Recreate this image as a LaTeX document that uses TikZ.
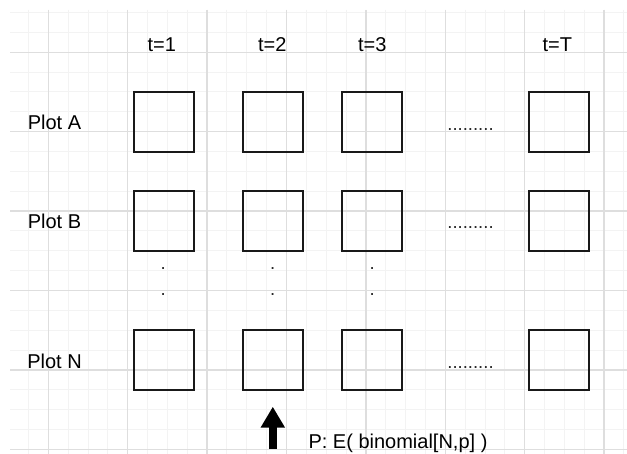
\documentclass[tikz,border=0pt]{standalone}
\usepackage{fontspec}
\setmainfont{Liberation Sans}
\usetikzlibrary{arrows.meta}
\definecolor{minorgrid}{HTML}{F3F3F3}
\definecolor{majorgrid}{HTML}{DEDEDE}
\tikzset{
  plotbox/.style={draw=black!90, line width=2pt, minimum width=60pt, minimum height=60pt, inner sep=0pt},
  lbl/.style={inner sep=0pt, anchor=base, font=\fontsize{20pt}{24pt}\selectfont, text=black},
  hdots/.style={inner sep=0pt, anchor=base, font=\fontsize{18.5pt}{22pt}\selectfont, text=black!85},
  vdots/.style={inner sep=0pt, align=center, font=\fontsize{18.5pt}{26pt}\selectfont, text=black!85},
  bigarrow/.style={line width=8pt, -{Triangle[width=23pt,length=21pt]}, black},
}
\begin{document}
\begin{tikzpicture}[x=1pt,y=-1pt]
\useasboundingbox (0,0) rectangle (627,454);
\fill[white] (0,0) rectangle (627,454);
% grid
\foreach \i in {1,...,31} \draw[minorgrid, line width=1pt] ({8.6+19.85*\i},10) -- ({8.6+19.85*\i},454);
\foreach \j in {0,...,22} \draw[minorgrid, line width=1pt] (10,{12.6+19.85*\j}) -- (627,{12.6+19.85*\j});
\foreach \k in {0,...,7} \draw[majorgrid, line width=1.5pt] ({48.3+79.4*\k},10) -- ({48.3+79.4*\k},454);
\foreach \k in {0,...,5} \draw[majorgrid, line width=1.5pt] (10,{52.3+79.4*\k}) -- (627,{52.3+79.4*\k});
% headers
\node[lbl] (h1) at (161.7,51.5) {t=1};
\node[lbl] (h2) at (272.3,51.5) {t=2};
\node[lbl] (h3) at (372.3,51.5) {t=3};
\node[lbl] (hT) at (557.3,51.5) {t=T};
% row labels
\node[lbl] (la) at (54.5,130) {Plot A};
\node[lbl] (lb) at (54.5,229) {Plot B};
\node[lbl] (ln) at (54.5,368.3) {Plot N};
% boxes
\foreach \r/\y in {a/121.7, b/220.7, n/360} {
  \node[plotbox] (\r1) at (163.7,\y) {};
  \node[plotbox] (\r2) at (272.8,\y) {};
  \node[plotbox] (\r3) at (371.8,\y) {};
  \node[plotbox] (\r T) at (558.5,\y) {};
}
% horizontal dots
\node[hdots] (da) at (470.5,130.3) {.........};
\node[hdots] (db) at (470.5,229) {.........};
\node[hdots] (dn) at (470.5,368.3) {.........};
% vertical dots
\node[vdots] (v1) at (163.3,282) {.\\.};
\node[vdots] (v2) at (272.7,282) {.\\.};
\node[vdots] (v3) at (372.3,282) {.\\.};
% arrow
\coordinate (arrowfoot) at (272.8,449);
\coordinate (arrowtip) at (272.8,406.7);
\draw[bigarrow] (arrowfoot) -- (arrowtip);
\node[lbl, anchor=base west] (ptext) at (308.3,449) {P: E( binomial[N,p] )};
\end{tikzpicture}
\end{document}
